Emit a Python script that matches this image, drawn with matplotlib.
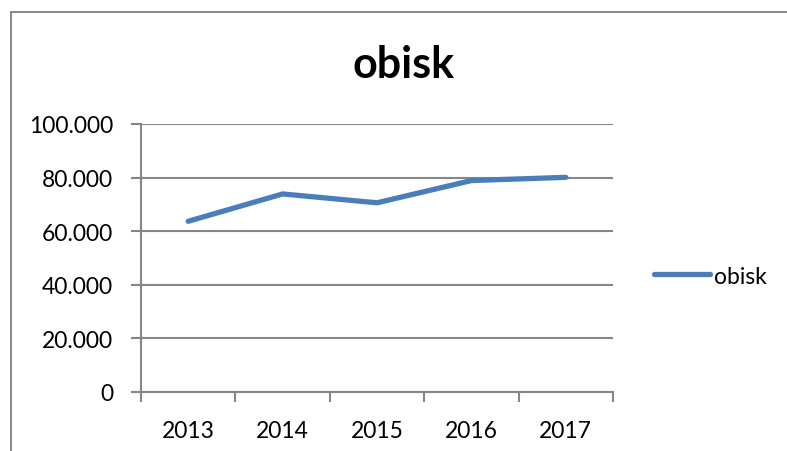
import matplotlib
matplotlib.use("Agg")
import matplotlib.pyplot as plt
from matplotlib.patches import Rectangle
from matplotlib.ticker import FuncFormatter, FixedLocator

plt.rcParams['font.family'] = ['Lato', 'DejaVu Sans']

years = ["2013", "2014", "2015", "2016", "2017"]
obisk = [63700, 73900, 70600, 78900, 80100]
yticks = [0, 20000, 40000, 60000, 80000, 100000]
series_name = "obisk"
title = "obisk"

fig = plt.figure(figsize=(7.87, 4.52), dpi=100)
fig.patch.set_facecolor("white")

# outer chart border (Excel-like, cropped by the image)
W, H = 787, 452
fig.add_artist(Rectangle((11 / W, -0.1), 1.2, 1 - 13 / H + 0.1,
                         transform=fig.transFigure, fill=False,
                         edgecolor="#8c8c8c", linewidth=1.5))

ax = fig.add_axes([141 / W, 1 - 393 / H, (613 - 141) / W, (393 - 125) / H])
x = list(range(len(years)))
ax.plot(x, obisk, color="#4A7EBB", linewidth=3.8, solid_capstyle="round",
        solid_joinstyle="round", label=series_name)

ax.set_xlim(-0.5, len(years) - 0.5)
ax.set_ylim(0, 100000)
ax.set_yticks(yticks)
ax.yaxis.set_major_formatter(FuncFormatter(
    lambda v, p: "0" if v == 0 else f"{int(v):,}".replace(",", ".")))

# category boundaries as tick marks, labels at centres
ax.xaxis.set_major_locator(FixedLocator([i - 0.5 for i in range(len(years) + 1)]))
ax.xaxis.set_minor_locator(FixedLocator(x))
ax.set_xticklabels([""] * (len(years) + 1))
ax.set_xticklabels(years, minor=True)
ax.tick_params(axis="x", which="major", length=7, width=1.5, color="#868686")
ax.tick_params(axis="x", which="minor", length=0, labelsize=16.5, pad=20)
ax.tick_params(axis="y", length=7, width=1.5, color="#868686", labelsize=16.5, pad=13)

ax.grid(axis="y", color="#868686", linewidth=1.5)
ax.set_axisbelow(True)
for s in ["top", "right"]:
    ax.spines[s].set_visible(False)
for s in ["left", "bottom"]:
    ax.spines[s].set_color("#868686")
    ax.spines[s].set_linewidth(1.5)

fig.text(404 / W, 1 - 65 / H, title, ha="center", va="center",
         fontsize=31, fontweight="bold")

leg = fig.legend(loc="center left", bbox_to_anchor=(645 / W, 1 - 277 / H),
                 frameon=False, fontsize=16.5, handlelength=2.45,
                 handletextpad=0.15, borderaxespad=0)

fig.savefig("out.png", dpi=100)
